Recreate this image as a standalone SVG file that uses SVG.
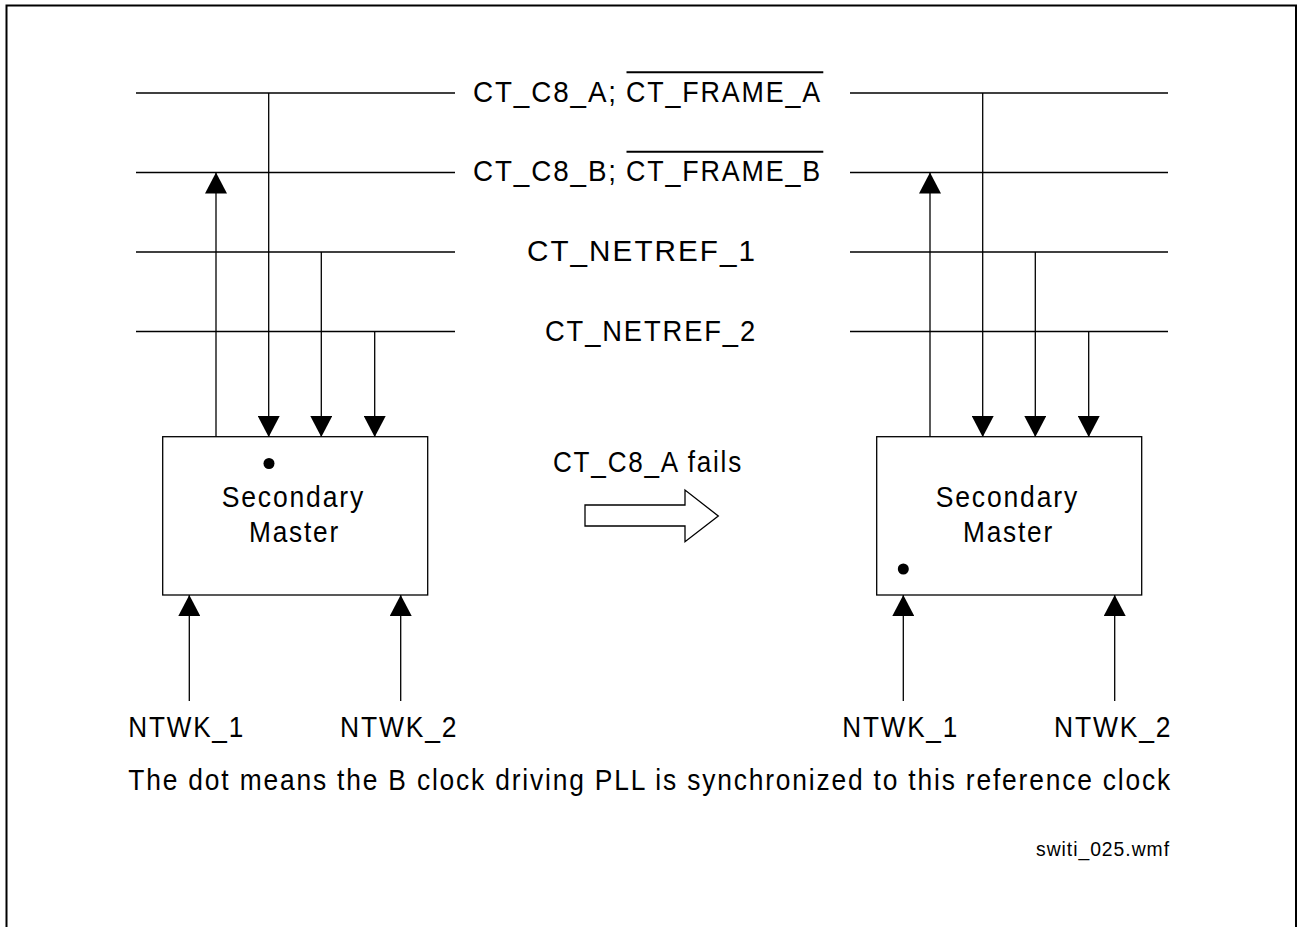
<svg xmlns="http://www.w3.org/2000/svg" width="1298" height="927" viewBox="0 0 1298 927">
<style>
.ln{stroke:#000;stroke-width:1.3;fill:none}
.fr{stroke:#000;stroke-width:2;fill:none}
.bx{stroke:#000;stroke-width:1.3;fill:#fff}
.t{font-family:"Liberation Sans",Arial,sans-serif;font-size:29px;letter-spacing:2px;fill:#000}
.s{font-family:"Liberation Sans",Arial,sans-serif;font-size:20px;letter-spacing:1px;fill:#000}
</style>
<defs>
<marker id="ah" viewBox="0 0 21 22" refX="21" refY="11" markerWidth="21" markerHeight="22" markerUnits="userSpaceOnUse" orient="auto">
<path d="M0,0 L21,11 L0,22 z" fill="#000"/>
</marker>
</defs>
<rect width="1298" height="927" fill="#fff"/>
<path class="fr" d="M6.5,927 V5.5 H1296 V927"/>

<g id="buses">
<line class="ln" x1="136" y1="93" x2="455" y2="93"/>
<line class="ln" x1="850" y1="93" x2="1168" y2="93"/>
<line class="ln" x1="136" y1="172.5" x2="455" y2="172.5"/>
<line class="ln" x1="850" y1="172.5" x2="1168" y2="172.5"/>
<line class="ln" x1="136" y1="252" x2="455" y2="252"/>
<line class="ln" x1="850" y1="252" x2="1168" y2="252"/>
<line class="ln" x1="136" y1="331.5" x2="455" y2="331.5"/>
<line class="ln" x1="850" y1="331.5" x2="1168" y2="331.5"/>
</g>

<g id="bus-labels">
<text class="t" x="473" y="102" textLength="145" lengthAdjust="spacingAndGlyphs">CT_C8_A;</text>
<text class="t" x="626" y="102" textLength="196" lengthAdjust="spacingAndGlyphs">CT_FRAME_A</text>
<line x1="626.5" y1="72.3" x2="823.3" y2="72.3" stroke="#000" stroke-width="2"/>
<text class="t" x="473" y="180.5" textLength="145" lengthAdjust="spacingAndGlyphs">CT_C8_B;</text>
<text class="t" x="626" y="180.5" textLength="196" lengthAdjust="spacingAndGlyphs">CT_FRAME_B</text>
<line x1="626.5" y1="151.7" x2="823.3" y2="151.7" stroke="#000" stroke-width="2"/>
<text class="t" x="527" y="261" textLength="230" lengthAdjust="spacingAndGlyphs">CT_NETREF_1</text>
<text class="t" x="545" y="341" textLength="212" lengthAdjust="spacingAndGlyphs">CT_NETREF_2</text>
</g>

<g id="connectors">
<line class="ln" x1="216" y1="437" x2="216" y2="172.5" marker-end="url(#ah)"/>
<line class="ln" x1="268.7" y1="93" x2="268.7" y2="437" marker-end="url(#ah)"/>
<line class="ln" x1="321.3" y1="252" x2="321.3" y2="437" marker-end="url(#ah)"/>
<line class="ln" x1="374.7" y1="331.5" x2="374.7" y2="437" marker-end="url(#ah)"/>
<line class="ln" x1="189.3" y1="701" x2="189.3" y2="595" marker-end="url(#ah)"/>
<line class="ln" x1="400.7" y1="701" x2="400.7" y2="595" marker-end="url(#ah)"/>
<line class="ln" x1="930" y1="437" x2="930" y2="172.5" marker-end="url(#ah)"/>
<line class="ln" x1="982.7" y1="93" x2="982.7" y2="437" marker-end="url(#ah)"/>
<line class="ln" x1="1035.3" y1="252" x2="1035.3" y2="437" marker-end="url(#ah)"/>
<line class="ln" x1="1088.7" y1="331.5" x2="1088.7" y2="437" marker-end="url(#ah)"/>
<line class="ln" x1="903.3" y1="701" x2="903.3" y2="595" marker-end="url(#ah)"/>
<line class="ln" x1="1114.7" y1="701" x2="1114.7" y2="595" marker-end="url(#ah)"/>
</g>

<g id="box-left">
<rect class="bx" x="162.7" y="436.7" width="265" height="158.3"/>
<circle cx="269" cy="463.5" r="5.5" fill="#000"/>
<text class="t" x="221.7" y="507" textLength="143.3" lengthAdjust="spacingAndGlyphs">Secondary</text>
<text class="t" x="249" y="542" textLength="91" lengthAdjust="spacingAndGlyphs">Master</text>
</g>

<g id="box-right">
<rect class="bx" x="876.7" y="436.7" width="265" height="158.3"/>
<circle cx="903.3" cy="569" r="5.5" fill="#000"/>
<text class="t" x="935.7" y="507" textLength="143.3" lengthAdjust="spacingAndGlyphs">Secondary</text>
<text class="t" x="963" y="542" textLength="91" lengthAdjust="spacingAndGlyphs">Master</text>
</g>

<g id="transition">
<text class="t" x="553" y="472" textLength="190" lengthAdjust="spacingAndGlyphs">CT_C8_A fails</text>
<path class="ln" d="M585,505 H685 V490 L718.3,516 L685,541.7 V526 H585 Z" fill="#fff"/>
</g>

<g id="inputs">
<text class="t" x="128.3" y="737" textLength="116.7" lengthAdjust="spacingAndGlyphs">NTWK_1</text>
<text class="t" x="340" y="737" textLength="118.3" lengthAdjust="spacingAndGlyphs">NTWK_2</text>
<text class="t" x="842.3" y="737" textLength="116.7" lengthAdjust="spacingAndGlyphs">NTWK_1</text>
<text class="t" x="1054" y="737" textLength="118.3" lengthAdjust="spacingAndGlyphs">NTWK_2</text>
</g>

<g id="notes">
<text class="t" x="128.3" y="790" textLength="1043.7" lengthAdjust="spacingAndGlyphs">The dot means the B clock driving PLL is synchronized to this reference clock</text>
<text class="s" x="1036" y="856" textLength="134" lengthAdjust="spacingAndGlyphs">switi_025.wmf</text>
</g>
</svg>
